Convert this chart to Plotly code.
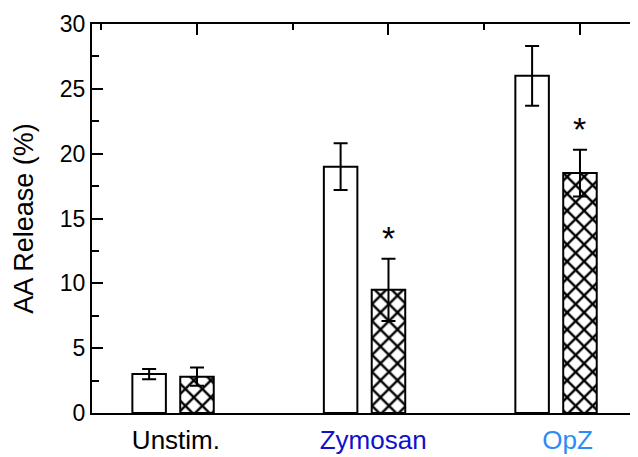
import plotly.graph_objects as go

categories = ["Unstim.", "Zymosan", "OpZ"]
label_colors = ["#000000", "#1010CC", "#2A8CF5"]
control = [3.0, 19.0, 26.0]
control_err = [0.4, 1.8, 2.3]
treated = [2.8, 9.5, 18.5]
treated_err = [0.7, 2.4, 1.8]
significant = [False, True, True]

pos = [1, 2, 3]
label_pos = [0.89, 1.92, 2.935]
xr = [0.4517, 3.303]
FONT = "Liberation Sans, Arial, sans-serif"

fig = go.Figure()
err_style = dict(type="data", color="black", thickness=2, width=7)
fig.add_bar(
    x=[p - 0.25 for p in pos], y=control, width=0.175,
    marker=dict(color="white", line=dict(color="black", width=2)),
    error_y=dict(array=control_err, **err_style),
)
fig.add_bar(
    x=pos, y=treated, width=0.175,
    marker=dict(color="white", line=dict(color="black", width=2),
                pattern=dict(shape="x", fgcolor="black", bgcolor="white", size=12, solidity=0.35)),
    error_y=dict(array=treated_err, **err_style),
)
fig.add_scatter(x=[], y=[], xaxis="x2", yaxis="y2", showlegend=False)

for p, v, e, s in zip(pos, treated, treated_err, significant):
    if s:
        fig.add_annotation(x=p, y=v + e, text="*", showarrow=False, yanchor="bottom",
                           font=dict(size=34, color="black", family=FONT))

ticktext = [f'<span style="color:{c}">{t}</span>' for t, c in zip(categories, label_colors)]

fig.update_layout(
    template="none",
    width=630, height=449,
    margin=dict(l=84, r=0, t=16, b=44, pad=0),
    paper_bgcolor="white", plot_bgcolor="white",
    barmode="overlay", showlegend=False,
    font=dict(family=FONT, color="black"),
    xaxis=dict(range=xr, tickvals=label_pos, ticktext=ticktext, ticks="", automargin=False,
               showline=True, linewidth=2, linecolor="black", showgrid=False, zeroline=False,
               tickfont=dict(size=26), ticklabelstandoff=3),
    xaxis2=dict(range=xr, overlaying="x", side="top", anchor="y", tick0=1, dtick=1, automargin=False,
                ticks="inside", ticklen=11, tickwidth=2, tickcolor="black",
                minor=dict(dtick=0.5, ticks="inside", ticklen=6, tickwidth=2, tickcolor="black"),
                showticklabels=False, showline=True, linewidth=2, linecolor="black",
                showgrid=False, zeroline=False),
    yaxis=dict(range=[0, 30], dtick=5, ticks="inside", ticklen=11, tickwidth=2, tickcolor="black",
               minor=dict(dtick=2.5, ticks="inside", ticklen=7, tickwidth=2, tickcolor="black"),
               showline=True, linewidth=2, linecolor="black", showgrid=False, zeroline=False,
               tickfont=dict(size=23), automargin=False,
               title=dict(text="AA Release (%)", font=dict(size=27), standoff=18)),
    yaxis2=dict(range=[0, 30], dtick=5, overlaying="y", side="right", anchor="free", position=1,
                ticks="inside", ticklen=4, tickwidth=2, tickcolor="black", automargin=False,
                showticklabels=False, showline=False, showgrid=False, zeroline=False),
)

fig.write_html("out.html")
